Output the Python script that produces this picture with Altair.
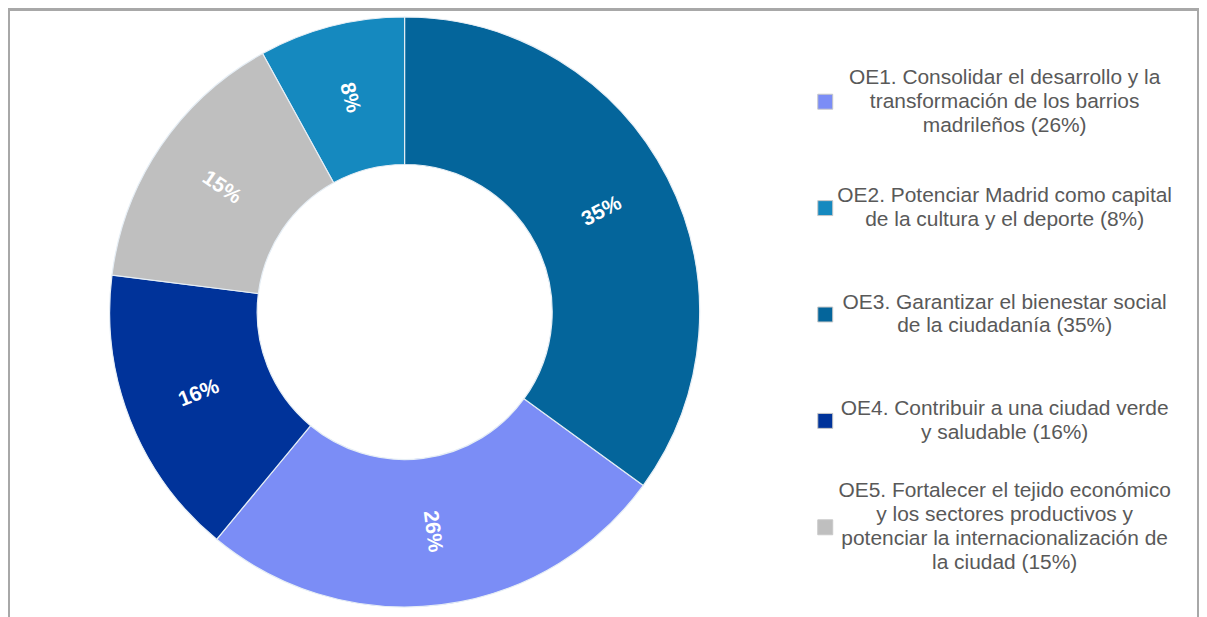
import altair as alt
import pandas as pd

# ---- data ----
etiquetas = [
    "OE1. Consolidar el desarrollo y la|transformación de los barrios|madrileños (26%)",
    "OE2. Potenciar Madrid como capital|de la cultura y el deporte (8%)",
    "OE3. Garantizar el bienestar social|de la ciudadanía (35%)",
    "OE4. Contribuir a una ciudad verde|y saludable (16%)",
    "OE5. Fortalecer el tejido económico|y los sectores productivos y|potenciar la internacionalización de|la ciudad (15%)",
]
porcentajes = [26, 8, 35, 16, 15]
orden_horario = [2, 5, 1, 3, 4]  # order of slices clockwise from 12 o'clock
colores = ["#7b8df6", "#1589bf", "#04659b", "#00339a", "#bfbfbf"]

df = pd.DataFrame({"etiqueta": etiquetas, "valor": porcentajes, "orden": orden_horario})

# one row per legend text line
filas = []
for etq in etiquetas:
    lineas = etq.split("|")
    for i, linea in enumerate(lineas):
        filas.append({"etiqueta": etq, "linea": linea, "i": i, "n": len(lineas)})
df_leyenda = pd.DataFrame(filas)

escala_color = alt.Scale(domain=etiquetas, range=colores)
escala_y = alt.Scale(type="point", domain=etiquetas, range=[93, 520], padding=0)

base = (
    alt.Chart(df)
    .transform_window(acum="sum(valor)", sort=[alt.SortField("orden")], frame=[None, 0])
    .transform_joinaggregate(total="sum(valor)")
    .transform_calculate(mid="(datum.acum - datum.valor/2) / datum.total * 360")
    .transform_calculate(ang="datum.mid > 180 ? datum.mid - 270 : datum.mid - 90")
    .transform_calculate(ang2="(datum.ang + 360) % 360", texto="datum.valor + '%'")
    .encode(
        theta=alt.Theta("valor:Q", stack=True),
        order=alt.Order("orden:Q"),
        x=alt.value(398),
        y=alt.value(304),
    )
)

arcos = base.mark_arc(outerRadius=296, innerRadius=148, stroke="#e6eef5", strokeWidth=1.2).encode(
    color=alt.Color("etiqueta:N", scale=escala_color, legend=None)
)

textos = base.mark_text(
    radius=222, font="Liberation Sans", fontSize=21, fontWeight="bold", color="white",
    align="center", baseline="middle",
).encode(text="texto:N", angle=alt.Angle("ang2:Q", scale=None))

simbolos = alt.Chart(df).mark_square(size=225, stroke="#c8c8c8", strokeWidth=1, opacity=1).encode(
    x=alt.value(820),
    y=alt.Y("etiqueta:N", scale=escala_y, axis=None),
    color=alt.Color("etiqueta:N", scale=escala_color, legend=None),
)

texto_leyenda = (
    alt.Chart(df_leyenda)
    .transform_calculate(desplaz="(datum.i - (datum.n - 1) / 2) * 24")
    .mark_text(font="Liberation Sans", fontSize=21, color="#595959", align="center", baseline="middle")
    .encode(
        x=alt.value(1000),
        y=alt.Y("etiqueta:N", scale=escala_y, axis=None),
        yOffset=alt.YOffset("desplaz:Q", scale=None),
        text="linea:N",
    )
)

chart = (
    alt.layer(arcos, textos, simbolos, texto_leyenda)
    .properties(width=1195, height=615, autosize=alt.AutoSizeParams(type="none"), padding=0)
    .configure_view(stroke="#a8a8a8", strokeWidth=4)
)

chart.save("out.html", embed_options={"renderer": "svg", "actions": False})
